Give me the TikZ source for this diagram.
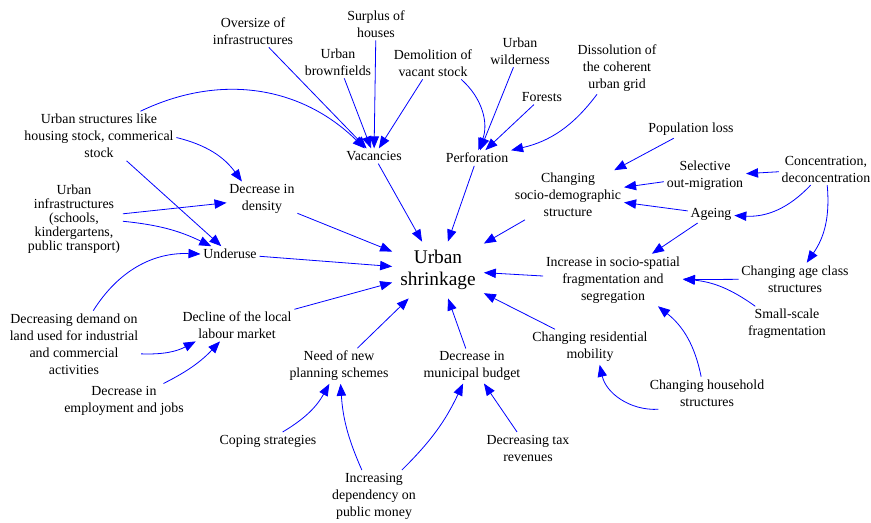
\documentclass[tikz,border=0pt]{standalone}
\usepackage{fontspec}
\setmainfont{Liberation Serif}
\usetikzlibrary{arrows.meta}

\begin{document}
\begin{tikzpicture}[x=0.75pt, y=-0.75pt,
    every node/.style={align=center, inner sep=2pt, font=\fontsize{10.4}{12.75}\selectfont},
    link/.style={draw=blue, line width=0.6pt, -{Triangle[length=9pt, width=7pt]}}]

  \useasboundingbox (0,0) rectangle (871,522);

  % Centre
  \node[font=\fontsize{14.5}{17}\selectfont, inner sep=6pt] (shrink) at (438,270) {Urban\\shrinkage};

  % Upper left
  \node (oversize) at (253,31) {Oversize of\\infrastructures};
  \node (surplus) at (376,24) {Surplus of\\houses};
  \node (brown) at (338,62) {Urban\\brownfields};
  \node (demol) at (433,63) {Demolition of\\vacant stock};
  \node (wild) at (520,51) {Urban\\wilderness};
  \node (forests) at (542,97) {Forests};
  \node (dissol) at (617,68) {Dissolution of\\the coherent\\urban grid};
  \node (vac) at (374,156) {Vacancies};
  \node (perf) at (477,158) {Perforation};
  \node (struct) at (99,136) {Urban structures like\\housing stock, commerical\\stock};
  \node (density) at (262,199) {Decrease in\\density};
  \node[font=\fontsize{10.4}{10.4}\selectfont] (infra) at (74,219) {Urban\\infrastructures\\(schools,\\kindergartens,\\public transport)};
  \node (underuse) at (230,254) {Underuse};

  % Right
  \node (poploss) at (691,129) {Population loss};
  \node (sociodem) at (568,195) {Changing\\socio-demographic\\structure};
  \node (selective) at (705,176) {Selective\\out-migration};
  \node (concentr) at (826,169) {Concentration,\\deconcentration};
  \node (ageing) at (711,214) {Ageing};
  \node (fragm) at (613,280) {Increase in socio-spatial\\fragmentation and\\segregation};
  \node (ageclass) at (795,279) {Changing age class\\structures};
  \node (smallscale) at (787,324) {Small-scale\\fragmentation};
  \node (mobility) at (590,347) {Changing residential\\mobility};
  \node (household) at (707,393) {Changing household\\structures};

  % Lower left and bottom
  \node (labour) at (237,325) {Decline of the local\\labour market};
  \node (landuse) at (74,344) {Decreasing demand on\\land used for industrial\\and commercial\\activities};
  \node (jobs) at (124,401) {Decrease in\\employment and jobs};
  \node (planning) at (339,366) {Need of new\\planning schemes};
  \node (budget) at (472,366) {Decrease in\\municipal budget};
  \node (coping) at (268,441) {Coping strategies};
  \node (dependency) at (374,496) {Increasing\\dependency on\\public money};
  \node (tax) at (528,448) {Decreasing tax\\revenues};

  % Straight links
  \foreach \a/\b in {oversize/vac, brown/vac, surplus/vac, demol/vac,
                     wild/perf, forests/perf, struct/underuse, infra/density,
                     vac/shrink, perf/shrink, density/shrink, underuse/shrink,
                     sociodem/shrink, fragm/shrink, mobility/shrink, labour/shrink,
                     planning/shrink, budget/shrink, poploss/sociodem,
                     selective/sociodem, concentr/selective, ageing/sociodem,
                     ageing/fragm, ageclass/fragm, tax/budget} {
    \draw[link] (\a) -- (\b);
  }

  % Curved links
  \draw[link] (struct) to[bend left=35] (vac);
  \draw[link] (struct) to[bend left=20] (density);
  \draw[link] (infra) to[bend left=10] (underuse);
  \draw[link] (landuse) to[bend left=30] (underuse);
  \draw[link] (landuse) to[bend right=15] (labour);
  \draw[link] (jobs) to[bend right=10] (labour);
  \draw[link] (demol) to[bend left=35] (perf);
  \draw[link] (dissol) to[bend left=20] (perf);
  \draw[link] (concentr) to[bend left=25] (ageing);
  \draw[link] (concentr) to[bend left=20] (ageclass);
  \draw[link] (smallscale) to[bend right=15] (fragm);
  \draw[link] (household) to[bend left=40] (mobility);
  \draw[link] (household) to[bend right=20] (fragm);
  \draw[link] (coping) to[bend right=15] (planning);
  \draw[link] (dependency) to[bend left=10] (planning);
  \draw[link] (dependency) to[bend right=10] (budget);

\end{tikzpicture}
\end{document}
